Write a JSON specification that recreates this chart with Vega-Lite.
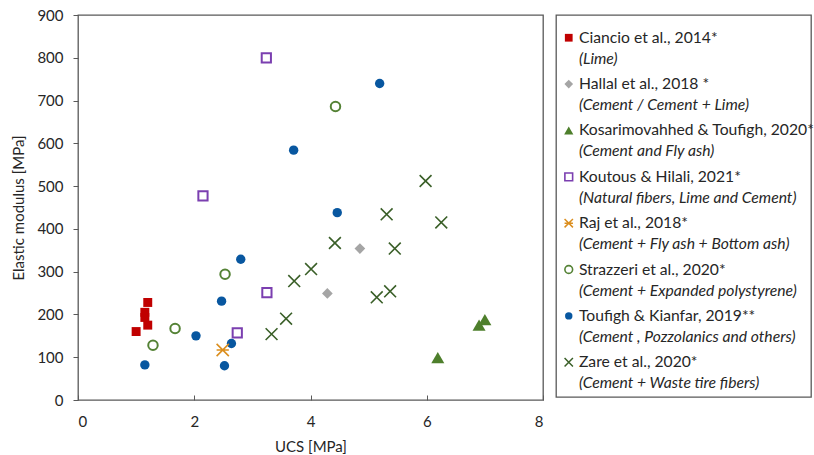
{
  "$schema": "https://vega.github.io/schema/vega-lite/v6.json",
  "padding": {"left": 11, "top": 7, "right": 0, "bottom": 0},
  "background": "white",
  "resolve": {"scale": {"size": "independent"}},
  "config": {
    "font": "Lato",
    "view": {"stroke": "#595959", "strokeWidth": 1.3},
    "concat": {"spacing": 10},
    "axis": {"domain": false, "grid": false, "tickColor": "#595959", "labelColor": "#262626", "titleColor": "#262626", "labelFontSize": 15, "titleFontSize": 15, "titleFontWeight": "normal", "labelFont": "Lato", "titleFont": "Lato"}
  },
  "datasets": {
    "points": [
      {"series": "Ciancio", "ucs": 1.0, "e": 160},
      {"series": "Ciancio", "ucs": 1.2, "e": 175},
      {"series": "Ciancio", "ucs": 1.15, "e": 193},
      {"series": "Ciancio", "ucs": 1.15, "e": 205},
      {"series": "Ciancio", "ucs": 1.2, "e": 228},
      {"series": "Hallal", "ucs": 4.85, "e": 354},
      {"series": "Hallal", "ucs": 4.29, "e": 249},
      {"series": "Kosarimovahhed", "ucs": 7.0, "e": 188},
      {"series": "Kosarimovahhed", "ucs": 6.9, "e": 175},
      {"series": "Kosarimovahhed", "ucs": 6.19, "e": 99},
      {"series": "Koutous", "ucs": 3.24, "e": 800},
      {"series": "Koutous", "ucs": 2.15, "e": 477},
      {"series": "Koutous", "ucs": 3.25, "e": 251},
      {"series": "Koutous", "ucs": 2.74, "e": 157},
      {"series": "Raj", "ucs": 2.49, "e": 117},
      {"series": "Strazzeri", "ucs": 4.43, "e": 686},
      {"series": "Strazzeri", "ucs": 2.53, "e": 294},
      {"series": "Strazzeri", "ucs": 1.67, "e": 167},
      {"series": "Strazzeri", "ucs": 1.29, "e": 128},
      {"series": "Toufigh", "ucs": 5.19, "e": 740},
      {"series": "Toufigh", "ucs": 3.71, "e": 584},
      {"series": "Toufigh", "ucs": 4.46, "e": 438},
      {"series": "Toufigh", "ucs": 2.8, "e": 329},
      {"series": "Toufigh", "ucs": 2.47, "e": 231},
      {"series": "Toufigh", "ucs": 2.03, "e": 150},
      {"series": "Toufigh", "ucs": 2.64, "e": 132},
      {"series": "Toufigh", "ucs": 1.15, "e": 82},
      {"series": "Toufigh", "ucs": 2.52, "e": 80},
      {"series": "Zare", "ucs": 5.98, "e": 512},
      {"series": "Zare", "ucs": 5.31, "e": 434},
      {"series": "Zare", "ucs": 6.25, "e": 415},
      {"series": "Zare", "ucs": 4.42, "e": 367},
      {"series": "Zare", "ucs": 5.45, "e": 354},
      {"series": "Zare", "ucs": 4.01, "e": 306},
      {"series": "Zare", "ucs": 3.72, "e": 278},
      {"series": "Zare", "ucs": 5.37, "e": 254},
      {"series": "Zare", "ucs": 5.14, "e": 240},
      {"series": "Zare", "ucs": 3.58, "e": 190},
      {"series": "Zare", "ucs": 3.33, "e": 154}
    ],
    "legend": [
      {"series": "Ciancio", "label": "Ciancio et al., 2014*", "sub": "(Lime)"},
      {"series": "Hallal", "label": "Hallal et al., 2018 *", "sub": "(Cement / Cement + Lime)"},
      {"series": "Kosarimovahhed", "label": "Kosarimovahhed & Toufigh, 2020**", "sub": "(Cement and Fly ash)"},
      {"series": "Koutous", "label": "Koutous & Hilali, 2021*", "sub": "(Natural fibers, Lime and Cement)"},
      {"series": "Raj", "label": "Raj et al., 2018*", "sub": "(Cement + Fly ash + Bottom ash)"},
      {"series": "Strazzeri", "label": "Strazzeri et al., 2020*", "sub": "(Cement + Expanded polystyrene)"},
      {"series": "Toufigh", "label": "Toufigh & Kianfar, 2019**", "sub": "(Cement , Pozzolanics and others)"},
      {"series": "Zare", "label": "Zare et al., 2020*", "sub": "(Cement + Waste tire fibers)"}
    ]
  },
  "hconcat": [
    {
      "width": 465,
      "height": 385,
      "data": {"name": "points"},
      "encoding": {
        "x": {"field": "ucs", "type": "quantitative", "title": "UCS [MPa]", "scale": {"domain": [0, 8], "nice": false}, "axis": {"values": [0, 2, 4, 6, 8], "tickSize": -5, "labelPadding": 19, "titlePadding": 10}},
        "y": {"field": "e", "type": "quantitative", "title": "Elastic modulus [MPa]", "scale": {"domain": [0, 900], "nice": false}, "axis": {"values": [0, 100, 200, 300, 400, 500, 600, 700, 800, 900], "tickSize": 5, "labelPadding": 10, "titlePadding": 10}},
        "shape": {"field": "series", "type": "nominal", "legend": null, "scale": {"domain": ["Ciancio", "Hallal", "Kosarimovahhed", "Koutous", "Raj", "Strazzeri", "Toufigh", "Zare"], "range": ["square", "diamond", "triangle-up", "square", "M-1,-1L1,1M-1,1L1,-1M-1,0L1,0", "circle", "circle", "M-1,-1L1,1M-1,1L1,-1"]}},
        "color": {"field": "series", "type": "nominal", "legend": null, "scale": {"domain": ["Ciancio", "Hallal", "Kosarimovahhed", "Koutous", "Raj", "Strazzeri", "Toufigh", "Zare"], "range": ["#C00000", "#A5A5A5", "#4E7F2C", "#7B3FB0", "#DB8E1E", "#548235", "#0857A0", "#3A5F28"]}},
        "size": {"field": "series", "type": "nominal", "legend": null, "scale": {"type": "ordinal", "domain": ["Ciancio", "Hallal", "Kosarimovahhed", "Koutous", "Raj", "Strazzeri", "Toufigh", "Zare"], "range": [80, 115, 170, 85, 150, 90, 88, 140]}}
      },
      "layer": [
        {
          "transform": [{"filter": {"field": "series", "oneOf": ["Ciancio", "Hallal", "Kosarimovahhed", "Toufigh"]}}],
          "mark": {"type": "point", "filled": true, "opacity": 1}
        },
        {
          "transform": [{"filter": {"field": "series", "oneOf": ["Koutous", "Strazzeri"]}}],
          "mark": {"type": "point", "filled": false, "opacity": 1, "strokeWidth": 2}
        },
        {
          "transform": [{"filter": {"field": "series", "oneOf": ["Raj", "Zare"]}}],
          "mark": {"type": "point", "filled": false, "opacity": 1, "strokeWidth": 1.6}
        }
      ]
    },
    {
      "width": 255,
      "height": 382,
      "data": {"name": "legend"},
      "encoding": {
        "y": {"field": "series", "type": "nominal", "sort": null, "scale": {"type": "point", "padding": 0.62, "domain": ["Ciancio", "Hallal", "Kosarimovahhed", "Koutous", "Raj", "Strazzeri", "Toufigh", "Zare"]}, "axis": null},
        "x": {"datum": 0.05, "type": "quantitative", "scale": {"domain": [0, 1], "nice": false}, "axis": null},
        "shape": {"field": "series", "type": "nominal", "legend": null, "scale": {"domain": ["Ciancio", "Hallal", "Kosarimovahhed", "Koutous", "Raj", "Strazzeri", "Toufigh", "Zare"], "range": ["square", "diamond", "triangle-up", "square", "M-1,-1L1,1M-1,1L1,-1M-1,0L1,0", "circle", "circle", "M-1,-1L1,1M-1,1L1,-1"]}},
        "color": {"field": "series", "type": "nominal", "legend": null, "scale": {"domain": ["Ciancio", "Hallal", "Kosarimovahhed", "Koutous", "Raj", "Strazzeri", "Toufigh", "Zare"], "range": ["#C00000", "#A5A5A5", "#4E7F2C", "#7B3FB0", "#DB8E1E", "#548235", "#0857A0", "#3A5F28"]}},
        "size": {"field": "series", "type": "nominal", "legend": null, "scale": {"type": "ordinal", "domain": ["Ciancio", "Hallal", "Kosarimovahhed", "Koutous", "Raj", "Strazzeri", "Toufigh", "Zare"], "range": [60, 75, 85, 60, 70, 60, 55, 70]}}
      },
      "layer": [
        {
          "transform": [{"filter": {"field": "series", "oneOf": ["Ciancio", "Hallal", "Kosarimovahhed", "Toufigh"]}}],
          "mark": {"type": "point", "filled": true, "opacity": 1, "yOffset": -6}
        },
        {
          "transform": [{"filter": {"field": "series", "oneOf": ["Koutous", "Strazzeri"]}}],
          "mark": {"type": "point", "filled": false, "opacity": 1, "strokeWidth": 1.6, "yOffset": -6}
        },
        {
          "transform": [{"filter": {"field": "series", "oneOf": ["Raj", "Zare"]}}],
          "mark": {"type": "point", "filled": false, "opacity": 1, "strokeWidth": 1.5, "yOffset": -6}
        },
        {
          "mark": {"type": "text", "align": "left", "baseline": "middle", "dy": -6, "fontSize": 15.7, "color": "#262626"},
          "encoding": {
            "x": {"datum": 0.09, "type": "quantitative"},
            "text": {"field": "label"},
            "shape": null, "color": null, "size": null
          }
        },
        {
          "mark": {"type": "text", "align": "left", "baseline": "middle", "dy": 15, "fontSize": 15.7, "fontStyle": "italic", "color": "#262626"},
          "encoding": {
            "x": {"datum": 0.09, "type": "quantitative"},
            "text": {"field": "sub"},
            "shape": null, "color": null, "size": null
          }
        }
      ]
    }
  ]
}
